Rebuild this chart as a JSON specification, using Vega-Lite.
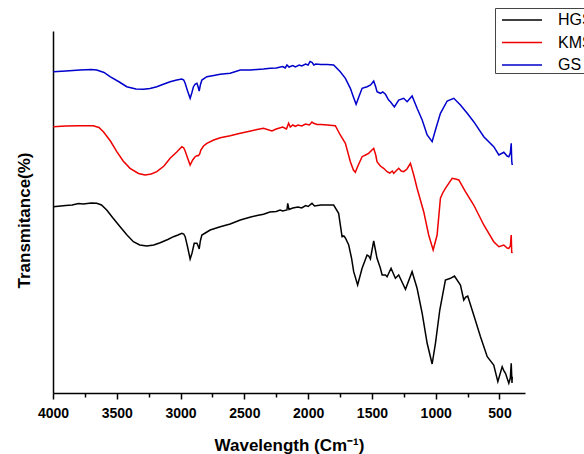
{
  "$schema": "https://vega.github.io/schema/vega-lite/v6.json",
  "width": 472,
  "height": 362,
  "autosize": {"type": "none"},
  "padding": {"left": 53, "top": 31, "right": 59, "bottom": 61},
  "background": "white",
  "config": {"view": {"stroke": null}, "font": "Liberation Sans"},
  "data": {"values": [
    {"s":"GS","w":3998,"t":321.3},{"s":"GS","w":3900,"t":322},{"s":"GS","w":3788,"t":323},{"s":"GS","w":3700,"t":323.5},{"s":"GS","w":3657,"t":323},{"s":"GS","w":3600,"t":320.5},{"s":"GS","w":3553,"t":316.3},{"s":"GS","w":3480,"t":311},{"s":"GS","w":3422,"t":306.3},{"s":"GS","w":3350,"t":304},{"s":"GS","w":3291,"t":303.7},{"s":"GS","w":3240,"t":304.5},{"s":"GS","w":3186,"t":306.3},{"s":"GS","w":3130,"t":309},{"s":"GS","w":3082,"t":311.3},{"s":"GS","w":3030,"t":313},{"s":"GS","w":2990,"t":314},{"s":"GS","w":2975,"t":313},{"s":"GS","w":2964,"t":309.7},{"s":"GS","w":2945,"t":302},{"s":"GS","w":2925,"t":294.7},{"s":"GS","w":2912,"t":300},{"s":"GS","w":2899,"t":306.3},{"s":"GS","w":2885,"t":309},{"s":"GS","w":2872,"t":309.7},{"s":"GS","w":2862,"t":306},{"s":"GS","w":2854,"t":302},{"s":"GS","w":2845,"t":308},{"s":"GS","w":2833,"t":313},{"s":"GS","w":2794,"t":316.3},{"s":"GS","w":2740,"t":317.5},{"s":"GS","w":2689,"t":318.7},{"s":"GS","w":2611,"t":319.7},{"s":"GS","w":2532,"t":323},{"s":"GS","w":2450,"t":323},{"s":"GS","w":2400,"t":323.5},{"s":"GS","w":2350,"t":324},{"s":"GS","w":2297,"t":324.7},{"s":"GS","w":2250,"t":325},{"s":"GS","w":2200,"t":326.5},{"s":"GS","w":2180,"t":325},{"s":"GS","w":2166,"t":328},{"s":"GS","w":2150,"t":326},{"s":"GS","w":2120,"t":327.5},{"s":"GS","w":2100,"t":326},{"s":"GS","w":2070,"t":328},{"s":"GS","w":2050,"t":327},{"s":"GS","w":2020,"t":329},{"s":"GS","w":2000,"t":328},{"s":"GS","w":1985,"t":331.5},{"s":"GS","w":1970,"t":330.7},{"s":"GS","w":1955,"t":328},{"s":"GS","w":1940,"t":329},{"s":"GS","w":1900,"t":328.5},{"s":"GS","w":1850,"t":328.5},{"s":"GS","w":1800,"t":328},{"s":"GS","w":1748,"t":321.3},{"s":"GS","w":1708,"t":314.7},{"s":"GS","w":1669,"t":304.7},{"s":"GS","w":1645,"t":296},{"s":"GS","w":1624,"t":288.7},{"s":"GS","w":1600,"t":297},{"s":"GS","w":1577,"t":304.7},{"s":"GS","w":1538,"t":306.3},{"s":"GS","w":1510,"t":308},{"s":"GS","w":1486,"t":312},{"s":"GS","w":1470,"t":306},{"s":"GS","w":1460,"t":301.3},{"s":"GS","w":1434,"t":299.7},{"s":"GS","w":1415,"t":301},{"s":"GS","w":1394,"t":298.7},{"s":"GS","w":1369,"t":293},{"s":"GS","w":1355,"t":291.3},{"s":"GS","w":1324,"t":286},{"s":"GS","w":1290,"t":293},{"s":"GS","w":1251,"t":294.7},{"s":"GS","w":1224,"t":291.3},{"s":"GS","w":1185,"t":297},{"s":"GS","w":1146,"t":284.7},{"s":"GS","w":1106,"t":273},{"s":"GS","w":1067,"t":258},{"s":"GS","w":1028,"t":251.3},{"s":"GS","w":1002,"t":263},{"s":"GS","w":963,"t":279.7},{"s":"GS","w":910,"t":292},{"s":"GS","w":858,"t":294.7},{"s":"GS","w":806,"t":288},{"s":"GS","w":753,"t":279.7},{"s":"GS","w":702,"t":271.3},{"s":"GS","w":623,"t":256.3},{"s":"GS","w":545,"t":246.3},{"s":"GS","w":505,"t":238},{"s":"GS","w":466,"t":240.7},{"s":"GS","w":440,"t":237},{"s":"GS","w":427,"t":236.3},{"s":"GS","w":415,"t":240},{"s":"GS","w":408,"t":249.7},{"s":"GS","w":404,"t":232},{"s":"GS","w":400,"t":228},
    {"s":"KMS","w":3998,"t":266.3},{"s":"KMS","w":3900,"t":267},{"s":"KMS","w":3800,"t":267.3},{"s":"KMS","w":3684,"t":267.3},{"s":"KMS","w":3640,"t":265.5},{"s":"KMS","w":3605,"t":261.3},{"s":"KMS","w":3550,"t":252},{"s":"KMS","w":3500,"t":241.3},{"s":"KMS","w":3450,"t":232},{"s":"KMS","w":3396,"t":224.7},{"s":"KMS","w":3330,"t":219.5},{"s":"KMS","w":3278,"t":218},{"s":"KMS","w":3230,"t":219},{"s":"KMS","w":3186,"t":221.3},{"s":"KMS","w":3130,"t":227},{"s":"KMS","w":3082,"t":234.7},{"s":"KMS","w":3030,"t":241},{"s":"KMS","w":2990,"t":246.3},{"s":"KMS","w":2975,"t":245},{"s":"KMS","w":2964,"t":242},{"s":"KMS","w":2945,"t":235},{"s":"KMS","w":2925,"t":228},{"s":"KMS","w":2905,"t":233},{"s":"KMS","w":2886,"t":236.3},{"s":"KMS","w":2870,"t":237.5},{"s":"KMS","w":2860,"t":237.3},{"s":"KMS","w":2850,"t":239},{"s":"KMS","w":2841,"t":243},{"s":"KMS","w":2820,"t":247},{"s":"KMS","w":2794,"t":249.7},{"s":"KMS","w":2740,"t":253},{"s":"KMS","w":2689,"t":255.3},{"s":"KMS","w":2611,"t":257.3},{"s":"KMS","w":2532,"t":259.7},{"s":"KMS","w":2450,"t":262},{"s":"KMS","w":2400,"t":263.5},{"s":"KMS","w":2350,"t":264.7},{"s":"KMS","w":2284,"t":262},{"s":"KMS","w":2250,"t":264},{"s":"KMS","w":2200,"t":266},{"s":"KMS","w":2170,"t":264},{"s":"KMS","w":2153,"t":269.7},{"s":"KMS","w":2140,"t":266},{"s":"KMS","w":2120,"t":268},{"s":"KMS","w":2100,"t":266.5},{"s":"KMS","w":2080,"t":268},{"s":"KMS","w":2050,"t":267},{"s":"KMS","w":2020,"t":269},{"s":"KMS","w":1990,"t":268},{"s":"KMS","w":1970,"t":271},{"s":"KMS","w":1957,"t":269.7},{"s":"KMS","w":1930,"t":268.5},{"s":"KMS","w":1900,"t":268.5},{"s":"KMS","w":1850,"t":268},{"s":"KMS","w":1787,"t":267.3},{"s":"KMS","w":1748,"t":258},{"s":"KMS","w":1708,"t":249.7},{"s":"KMS","w":1669,"t":231.3},{"s":"KMS","w":1645,"t":223},{"s":"KMS","w":1630,"t":220.7},{"s":"KMS","w":1610,"t":227},{"s":"KMS","w":1577,"t":236.3},{"s":"KMS","w":1550,"t":238},{"s":"KMS","w":1526,"t":239.7},{"s":"KMS","w":1486,"t":244.7},{"s":"KMS","w":1470,"t":238},{"s":"KMS","w":1460,"t":231.3},{"s":"KMS","w":1434,"t":227},{"s":"KMS","w":1408,"t":224.7},{"s":"KMS","w":1381,"t":221.3},{"s":"KMS","w":1360,"t":220},{"s":"KMS","w":1340,"t":222},{"s":"KMS","w":1329,"t":219.7},{"s":"KMS","w":1290,"t":224.7},{"s":"KMS","w":1270,"t":222},{"s":"KMS","w":1251,"t":221.3},{"s":"KMS","w":1225,"t":224},{"s":"KMS","w":1198,"t":229.7},{"s":"KMS","w":1172,"t":218},{"s":"KMS","w":1146,"t":204.7},{"s":"KMS","w":1094,"t":181.3},{"s":"KMS","w":1055,"t":158},{"s":"KMS","w":1020,"t":143},{"s":"KMS","w":989,"t":158},{"s":"KMS","w":963,"t":194.7},{"s":"KMS","w":945,"t":200},{"s":"KMS","w":924,"t":204.7},{"s":"KMS","w":871,"t":214.7},{"s":"KMS","w":845,"t":214},{"s":"KMS","w":819,"t":213},{"s":"KMS","w":767,"t":201.3},{"s":"KMS","w":702,"t":188},{"s":"KMS","w":623,"t":168},{"s":"KMS","w":545,"t":151.3},{"s":"KMS","w":505,"t":146.3},{"s":"KMS","w":466,"t":148},{"s":"KMS","w":440,"t":145},{"s":"KMS","w":427,"t":144.7},{"s":"KMS","w":415,"t":147},{"s":"KMS","w":408,"t":158},{"s":"KMS","w":404,"t":140},{"s":"KMS","w":400,"t":141.3},
    {"s":"HGS","w":3998,"t":186.3},{"s":"HGS","w":3900,"t":187.5},{"s":"HGS","w":3850,"t":188},{"s":"HGS","w":3800,"t":189.5},{"s":"HGS","w":3762,"t":189},{"s":"HGS","w":3700,"t":190},{"s":"HGS","w":3657,"t":189.7},{"s":"HGS","w":3620,"t":188},{"s":"HGS","w":3579,"t":183},{"s":"HGS","w":3530,"t":175},{"s":"HGS","w":3474,"t":166.3},{"s":"HGS","w":3420,"t":158},{"s":"HGS","w":3370,"t":151.3},{"s":"HGS","w":3320,"t":148},{"s":"HGS","w":3265,"t":147},{"s":"HGS","w":3210,"t":148},{"s":"HGS","w":3160,"t":150.3},{"s":"HGS","w":3100,"t":153.5},{"s":"HGS","w":3056,"t":156.3},{"s":"HGS","w":3020,"t":158},{"s":"HGS","w":2990,"t":159.7},{"s":"HGS","w":2975,"t":159},{"s":"HGS","w":2964,"t":156.3},{"s":"HGS","w":2945,"t":146},{"s":"HGS","w":2925,"t":134},{"s":"HGS","w":2910,"t":140},{"s":"HGS","w":2893,"t":149.7},{"s":"HGS","w":2872,"t":149.7},{"s":"HGS","w":2862,"t":147},{"s":"HGS","w":2854,"t":144},{"s":"HGS","w":2845,"t":152},{"s":"HGS","w":2833,"t":158},{"s":"HGS","w":2800,"t":160.5},{"s":"HGS","w":2768,"t":163},{"s":"HGS","w":2689,"t":166.3},{"s":"HGS","w":2611,"t":169},{"s":"HGS","w":2532,"t":173},{"s":"HGS","w":2450,"t":176},{"s":"HGS","w":2400,"t":177.5},{"s":"HGS","w":2350,"t":178.7},{"s":"HGS","w":2300,"t":181},{"s":"HGS","w":2250,"t":181.5},{"s":"HGS","w":2220,"t":183},{"s":"HGS","w":2200,"t":182},{"s":"HGS","w":2166,"t":183},{"s":"HGS","w":2160,"t":189.7},{"s":"HGS","w":2150,"t":183.5},{"s":"HGS","w":2120,"t":185},{"s":"HGS","w":2080,"t":186},{"s":"HGS","w":2050,"t":185},{"s":"HGS","w":2020,"t":187.5},{"s":"HGS","w":2000,"t":186.5},{"s":"HGS","w":1970,"t":189.7},{"s":"HGS","w":1950,"t":187},{"s":"HGS","w":1900,"t":188},{"s":"HGS","w":1850,"t":188},{"s":"HGS","w":1800,"t":188},{"s":"HGS","w":1761,"t":179.7},{"s":"HGS","w":1734,"t":156.3},{"s":"HGS","w":1720,"t":157},{"s":"HGS","w":1708,"t":155},{"s":"HGS","w":1682,"t":148},{"s":"HGS","w":1660,"t":135},{"s":"HGS","w":1643,"t":121.3},{"s":"HGS","w":1612,"t":108},{"s":"HGS","w":1577,"t":124.7},{"s":"HGS","w":1538,"t":138},{"s":"HGS","w":1525,"t":137},{"s":"HGS","w":1512,"t":134},{"s":"HGS","w":1486,"t":152},{"s":"HGS","w":1460,"t":134.7},{"s":"HGS","w":1434,"t":125},{"s":"HGS","w":1420,"t":118},{"s":"HGS","w":1394,"t":118},{"s":"HGS","w":1381,"t":116.3},{"s":"HGS","w":1350,"t":124.7},{"s":"HGS","w":1316,"t":114.7},{"s":"HGS","w":1290,"t":118},{"s":"HGS","w":1237,"t":103.7},{"s":"HGS","w":1185,"t":121.3},{"s":"HGS","w":1146,"t":104.7},{"s":"HGS","w":1106,"t":79.7},{"s":"HGS","w":1067,"t":49.7},{"s":"HGS","w":1028,"t":29},{"s":"HGS","w":1002,"t":49.7},{"s":"HGS","w":968,"t":83},{"s":"HGS","w":924,"t":113},{"s":"HGS","w":884,"t":114.7},{"s":"HGS","w":853,"t":117},{"s":"HGS","w":806,"t":108},{"s":"HGS","w":780,"t":93},{"s":"HGS","w":765,"t":96},{"s":"HGS","w":749,"t":97},{"s":"HGS","w":702,"t":78},{"s":"HGS","w":649,"t":56.3},{"s":"HGS","w":596,"t":36.3},{"s":"HGS","w":545,"t":28},{"s":"HGS","w":513,"t":11.3},{"s":"HGS","w":479,"t":26.3},{"s":"HGS","w":465,"t":22},{"s":"HGS","w":453,"t":19.7},{"s":"HGS","w":427,"t":9.7},{"s":"HGS","w":415,"t":15},{"s":"HGS","w":408,"t":29.7},{"s":"HGS","w":402,"t":10},{"s":"HGS","w":400,"t":16.3}
  ]},
  "mark": {"type": "line", "strokeWidth": 1.5},
  "encoding": {
    "x": {
      "field": "w", "type": "quantitative",
      "scale": {"domain": [300, 4000], "reverse": true, "nice": false, "zero": false},
      "axis": {
        "values": [4000, 3750, 3500, 3250, 3000, 2750, 2500, 2250, 2000, 1750, 1500, 1250, 1000, 750, 500],
        "format": "d",
        "labelExpr": "datum.value % 500 === 0 ? datum.label : ''",
        "labelOverlap": false,
        "labelFlush": false,
        "labelFontSize": 14,
        "labelFontWeight": "bold",
        "labelColor": "black",
        "labelPadding": 7,
        "tickColor": "black",
        "tickWidth": 1.5,
        "tickSize": {"condition": {"test": "datum.value % 500 === 0", "value": 6}, "value": 4},
        "domainColor": "black",
        "domainWidth": 1.5,
        "grid": false,
        "title": "Wavelength (Cm⁻¹)",
        "titleFontSize": 17,
        "titleFontWeight": "bold",
        "titleColor": "black",
        "titleY": 57,
        "titleBaseline": "alphabetic"
      }
    },
    "y": {
      "field": "t", "type": "quantitative",
      "scale": {"domain": [0, 362], "nice": false, "zero": false},
      "axis": {
        "ticks": false,
        "labels": false,
        "grid": false,
        "domainColor": "black",
        "domainWidth": 1.5,
        "title": "Transmitance(%)",
        "titleFontSize": 17,
        "titleFontWeight": "bold",
        "titleColor": "black",
        "titleX": -20,
        "titleY": 189
      }
    },
    "color": {
      "field": "s", "type": "nominal",
      "scale": {"domain": ["HGS", "KMS", "GS"], "range": ["#000000", "#ee0000", "#0000cc"]},
      "legend": {
        "orient": "none",
        "legendX": 442,
        "legendY": -23,
        "title": null,
        "strokeColor": "#444444",
        "fillColor": "white",
        "padding": 0,
        "symbolType": "M-1.82,0L1.82,0",
        "symbolSize": 484,
        "symbolStrokeWidth": 1.5,
        "symbolOffset": 15,
        "labelOffset": 24,
        "labelFontSize": 16,
        "labelColor": "black",
        "rowPadding": 2.5
      }
    }
  }
}
